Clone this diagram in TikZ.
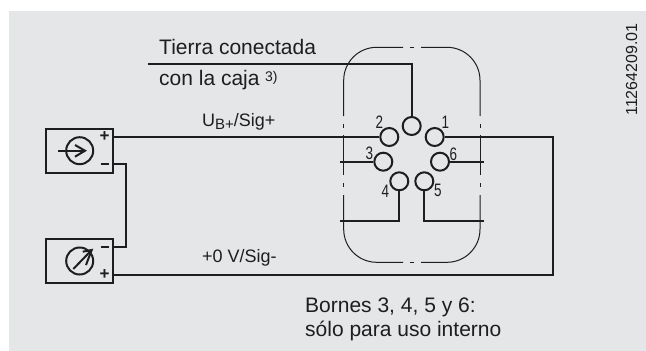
\documentclass[tikz,border=0pt]{standalone}
\usepackage{fontspec}
\setmainfont{Liberation Sans}
\usetikzlibrary{calc}
\definecolor{bgc}{HTML}{E4E6E8}
\definecolor{ink}{HTML}{1E1E1E}
\tikzset{
  wire/.style={draw=ink,line width=2pt},
  outline/.style={draw=ink,line width=1pt,rounded corners=33pt},
  thinline/.style={draw=ink,line width=1pt},
  devbox/.style={draw=ink,line width=2pt,fill=none,rectangle,minimum width=66.4pt,minimum height=44pt,inner sep=0pt},
  pin/.style={draw=ink,line width=2pt,circle,minimum size=18pt,inner sep=0pt},
  meter/.style={draw=ink,line width=2pt,circle,minimum size=27pt,inner sep=0pt},
  pinlabel/.style={text=ink,inner sep=0pt,font=\fontsize{18}{18}\selectfont,xscale=.75,transform shape},
  pol/.style={text=ink,inner sep=0pt,font=\bfseries\fontsize{17}{17}\selectfont},
  lab/.style={text=ink,inner sep=0pt,anchor=base west},
  large/.style={font=\fontsize{21}{21}\selectfont},
  small/.style={font=\fontsize{18}{18}\selectfont},
}
\begin{document}
\begin{tikzpicture}[x=1pt,y=-1pt]
\useasboundingbox (0,0) rectangle (646,351);
\fill[bgc] (9,11) rectangle (646,351);
% devices
\node[devbox] (src) at (79.5,151) {};
\node[devbox] (mtr) at (79.5,261) {};
\node[meter] (srcm) at (79.7,150.7) {};
\node[meter] (mtrm) at (79.7,261) {};
\coordinate (srctail) at (58,150.7);
\coordinate (srctip) at (85,150.7);
\draw[wire] (srctail) -- (srctip);
\draw[wire] (75,145) -- (85,150.7) -- (75,156.7);
\coordinate (mtail) at (73.3,269);
\coordinate (mtip) at (91.7,250);
\draw[wire] (mtail) -- (mtip);
\draw[wire] (82.7,251.7) -- (91.7,250) -- (86,265);
\node[pol] (sp) at (104.5,137) {+};
\node[pol] (sm) at (104.5,164) {\rule{8pt}{2pt}};
\node[pol] (mm) at (104.5,247) {\rule{8pt}{2pt}};
\node[pol] (mp) at (104.5,275) {+};
% pins
\node[pin] (p0) at (411.7,126) {};
\node[pin] (p2) at (389.3,137) {};
\node[pin] (p1) at (434.7,137) {};
\node[pin] (p3) at (383.3,161.7) {};
\node[pin] (p6) at (440,161.7) {};
\node[pin] (p4) at (399.3,181.3) {};
\node[pin] (p5) at (424.3,181.3) {};
\node[pinlabel] (l2) at (379.5,122) {2};
\node[pinlabel] (l1) at (445.5,122) {1};
\node[pinlabel] (l3) at (369.5,153) {3};
\node[pinlabel] (l6) at (453.5,154) {6};
\node[pinlabel] (l4) at (385.5,191) {4};
\node[pinlabel] (l5) at (438,190) {5};
% connectors
\coordinate (gnd) at (148,64.3);
\coordinate (gndc) at (411.7,64.3);
\coordinate (rtop) at (553,137);
\coordinate (rbot) at (553,275);
\coordinate (w3) at (339.7,161.7);
\coordinate (w6) at (484,161.7);
\coordinate (w4c) at (399.3,221);
\coordinate (w4) at (339.7,221);
\coordinate (w5c) at (424.3,221);
\coordinate (w5) at (484,221);
\coordinate (srcm1) at (112.7,164);
\coordinate (jog) at (126,164);
\coordinate (jog2) at (126,247);
\coordinate (mtrm1) at (112.7,247);
\coordinate (srcp) at (112.7,137);
\coordinate (mtrp) at (112.7,275);
\draw[wire] (gnd) -- (gndc) -- (p0.north);
\draw[wire] (srcp) -- (p2.west);
\draw[wire] (p1.east) -- (rtop) -- (rbot) -- (mtrp);
\draw[wire] (w3) -- (p3.west);
\draw[wire] (p6.east) -- (w6);
\draw[wire] (p4.south) -- (w4c) -- (w4);
\draw[wire] (p5.south) -- (w5c) -- (w5);
\draw[wire] (srcm1) -- (jog) -- (jog2) -- (mtrm1);
% enclosure, dash-dotted
\draw[outline] (403,47.3) -- (343.7,47.3) -- (343.7,116);
\draw[thinline] (343.7,123.5) -- (343.7,127.5);
\draw[thinline] (343.7,135) -- (343.7,175);
\draw[thinline] (343.7,183) -- (343.7,187);
\draw[outline] (343.7,195) -- (343.7,262.3) -- (403,262.3);
\draw[thinline] (409.5,262.3) -- (414,262.3);
\draw[outline] (421,262.3) -- (480,262.3) -- (480,195);
\draw[thinline] (480,187) -- (480,183);
\draw[thinline] (480,175) -- (480,135);
\draw[thinline] (480,127.5) -- (480,123.5);
\draw[outline] (480,116) -- (480,47.3) -- (421,47.3);
\draw[thinline] (414,47.3) -- (409.5,47.3);
% labels
\node[lab,large] (t1) at (159,54.5) {Tierra conectada};
\node[lab,large] (t2) at (159,85.7) {con la caja};
\node[lab] (t3) at (265,81) {\fontsize{14}{14}\selectfont 3)};
\node[lab,small] (u) at (202,126.7) {U\raisebox{-2.5pt}{\fontsize{15}{15}\selectfont B+}/Sig+};
\node[lab,small] (v) at (202,262.7) {+0 V/Sig-};
\node[lab,large] (b1) at (305,312.7) {Bornes 3, 4, 5 y 6:};
\node[lab,large] (b2) at (305,336.7) {sólo para uso interno};
\node[text=ink,inner sep=0pt,rotate=90,anchor=base,font=\fontsize{16}{16}\selectfont] (id) at (637,69.5) {11264209.01};
\end{tikzpicture}
\end{document}
